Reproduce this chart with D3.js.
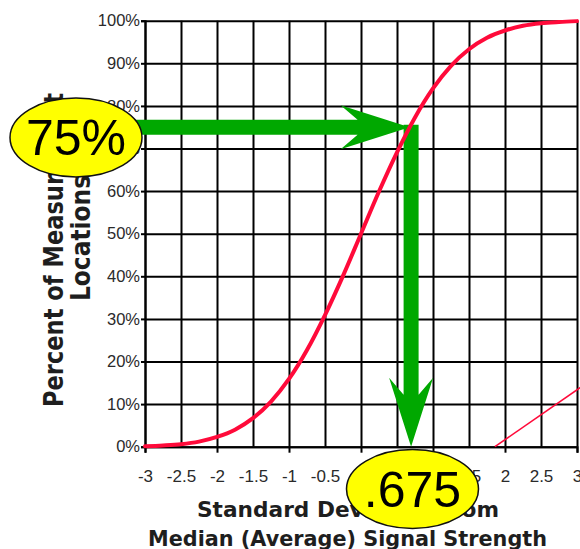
<!DOCTYPE html>
<html>
<head>
<meta charset="utf-8">
<script src="https://cdn.jsdelivr.net/npm/d3@7"></script>
<style>
  html, body { margin: 0; padding: 0; background: #fff; }
  svg { display: block; }
</style>
</head>
<body>
<svg id="chart" width="580" height="549"></svg>
<script>
// ---- data ----
const xTicks = [-3, -2.5, -2, -1.5, -1, -0.5, 0, 0.5, 1, 1.5, 2, 2.5, 3];
const xMajorTicks = [-3, -2, -1, 0, 1, 2, 3];
const yTicks = [0, 10, 20, 30, 40, 50, 60, 70, 80, 90, 100];

// cumulative curve: standard deviations vs percent of locations
const curveX = [-3, -2.75, -2.5, -2.25, -2, -1.75, -1.5, -1.25, -1, -0.75, -0.5, -0.25, 0,
                0.25, 0.5, 0.75, 1, 1.25, 1.5, 1.75, 2, 2.25, 2.5, 2.75, 3];
const curveY = [0.1, 0.3, 0.6, 1.2, 2.3, 4.0, 6.7, 10.6, 15.9, 22.7, 30.9, 40.1, 50,
                59.9, 69.1, 77.3, 84.1, 89.4, 93.3, 96.0, 97.7, 98.8, 99.4, 99.7, 99.9];

// stray thin red line at the lower right
const strayX = [1.86, 3.1];
const strayY = [0, 14.5];

// annotation
const annotPercent = 75;
const annotSigma = 0.675;
const annotPercentLabel = "75%";
const annotSigmaLabel = ".675";

const yTitleLines = ["Percent of Measurement", "Locations"];
const xTitleLines = ["Standard Deviation from", "Median (Average) Signal Strength"];

// ---- layout ----
const svg = d3.select("#chart");
const mLeft = 145, mRight = 577, mTop = 20.7, mBottom = 446.7;
const x = d3.scaleLinear().domain([-3, 3]).range([mLeft, mRight]);
const y = d3.scaleLinear().domain([0, 100]).range([mBottom, mTop]);

const RED = "#ff0a3a";
const GREEN = "#00a800";
const TXT = "#1e1e1e";

// grid: vertical lines
svg.append("g")
  .attr("transform", `translate(0,${mBottom})`)
  .call(d3.axisBottom(x).tickValues(xTicks).tickSize(-(mBottom - mTop)).tickFormat(""))
  .call(g => g.select(".domain").remove())
  .call(g => g.selectAll("line").attr("stroke", "#000").attr("stroke-width", 2));

// grid: horizontal lines
svg.append("g")
  .attr("transform", `translate(${mLeft},0)`)
  .call(d3.axisLeft(y).tickValues(yTicks).tickSize(-(mRight - mLeft)).tickFormat(""))
  .call(g => g.select(".domain").remove())
  .call(g => g.selectAll("line").attr("stroke", "#000").attr("stroke-width", 2));

// y axis with ticks and labels
svg.append("g")
  .attr("transform", `translate(${mLeft},0)`)
  .call(d3.axisLeft(y).tickValues(yTicks).tickSize(4).tickPadding(1).tickFormat(d => d + "%"))
  .call(g => g.select(".domain").attr("stroke", "#000").attr("stroke-width", 2))
  .call(g => g.selectAll("line").attr("stroke", "#000").attr("stroke-width", 2))
  .call(g => g.selectAll("text")
      .attr("font-family", "'Liberation Sans', Arial, sans-serif")
      .attr("font-size", 16.5).attr("fill", "#2a2a2a"));

// x axis major ticks
svg.append("g")
  .attr("transform", `translate(0,${mBottom})`)
  .call(d3.axisBottom(x).tickValues(xMajorTicks).tickSize(6).tickFormat(""))
  .call(g => g.select(".domain").attr("stroke", "#000").attr("stroke-width", 2))
  .call(g => g.selectAll("line").attr("stroke", "#000").attr("stroke-width", 2));

// x axis labels
svg.append("g")
  .attr("transform", `translate(0,${mBottom})`)
  .call(d3.axisBottom(x).tickValues(xTicks).tickSize(0).tickPadding(23).tickFormat(d => String(d)))
  .call(g => g.select(".domain").remove())
  .call(g => g.selectAll("text")
      .attr("font-family", "'Liberation Sans', Arial, sans-serif")
      .attr("font-size", 17).attr("fill", "#2a2a2a"));

// green arrows (annotation)
const tipX = x(annotSigma), tipY = y(annotPercent);
const shaftW = 15, headLen = 69, headHalf = 22, notch = 17;
const hx = tipX - headLen;
const toD = pts => pts.map(p => p[0] + (p.length > 1 ? p.slice(1).join(",") : "")).join(" ");
// horizontal arrow
svg.append("path")
  .attr("fill", GREEN)
  .attr("d", toD([
    ["M", 120, tipY - shaftW / 2],
    ["L", hx + notch, tipY - shaftW / 2],
    ["L", hx, tipY - headHalf],
    ["L", tipX, tipY],
    ["L", hx, tipY + headHalf],
    ["L", hx + notch, tipY + shaftW / 2],
    ["L", 120, tipY + shaftW / 2], ["Z"]
  ]));
// vertical arrow
const vx = tipX + 1.5, vTop = tipY - 2.5, vTip = y(0);
const vy = vTip - headLen;
svg.append("path")
  .attr("fill", GREEN)
  .attr("d", toD([
    ["M", vx - shaftW / 2, vTop],
    ["L", vx + shaftW / 2, vTop],
    ["L", vx + shaftW / 2, vy + notch],
    ["L", vx + headHalf, vy],
    ["L", vx, vTip],
    ["L", vx - headHalf, vy],
    ["L", vx - shaftW / 2, vy + notch], ["Z"]
  ]));

// red curve
const line = d3.line().x(d => x(d[0])).y(d => y(d[1])).curve(d3.curveMonotoneX);
svg.append("path")
  .datum(curveX.map((v, i) => [v, curveY[i]]))
  .attr("fill", "none").attr("stroke", RED).attr("stroke-width", 4)
  .attr("stroke-linecap", "round")
  .attr("d", line);

// stray thin red line
svg.append("path")
  .datum(strayX.map((v, i) => [v, strayY[i]]))
  .attr("fill", "none").attr("stroke", RED).attr("stroke-width", 1.6)
  .attr("d", d3.line().x(d => x(d[0])).y(d => y(d[1])));

// y title
const yt = svg.append("g").attr("font-family", "'DejaVu Sans', Verdana, sans-serif")
  .attr("font-weight", "bold").attr("fill", TXT).attr("font-size", 26);
yt.append("text").attr("transform", "translate(63,250) rotate(-90)")
  .attr("text-anchor", "middle").attr("textLength", 314).attr("lengthAdjust", "spacingAndGlyphs")
  .text(yTitleLines[0]);
yt.append("text").attr("transform", "translate(90,238) rotate(-90)")
  .attr("text-anchor", "middle").attr("textLength", 126).attr("lengthAdjust", "spacingAndGlyphs")
  .text(yTitleLines[1]);

// x title
const xt = svg.append("g").attr("font-family", "'DejaVu Sans', Verdana, sans-serif")
  .attr("font-weight", "bold").attr("fill", TXT).attr("font-size", 20.5);
xt.append("text").attr("x", 348).attr("y", 517).attr("text-anchor", "middle")
  .attr("textLength", 302).attr("lengthAdjust", "spacingAndGlyphs").text(xTitleLines[0]);
xt.append("text").attr("x", 347.5).attr("y", 546).attr("text-anchor", "middle")
  .attr("textLength", 399).attr("lengthAdjust", "spacingAndGlyphs").text(xTitleLines[1]);

// yellow ellipse callouts
function callout(cx, cy, label, baseline) {
  svg.append("ellipse").attr("cx", cx).attr("cy", cy).attr("rx", 66).attr("ry", 39.5)
    .attr("fill", "#ffff00").attr("stroke", "#111").attr("stroke-width", 1.5);
  svg.append("text").attr("x", cx).attr("y", baseline).attr("text-anchor", "middle")
    .attr("font-family", "'Liberation Sans', Arial, sans-serif").attr("font-size", 50)
    .attr("fill", "#000").text(label);
}
callout(76, 137.5, annotPercentLabel, 155);
callout(412.5, 489, annotSigmaLabel, 507);
</script>
</body>
</html>
